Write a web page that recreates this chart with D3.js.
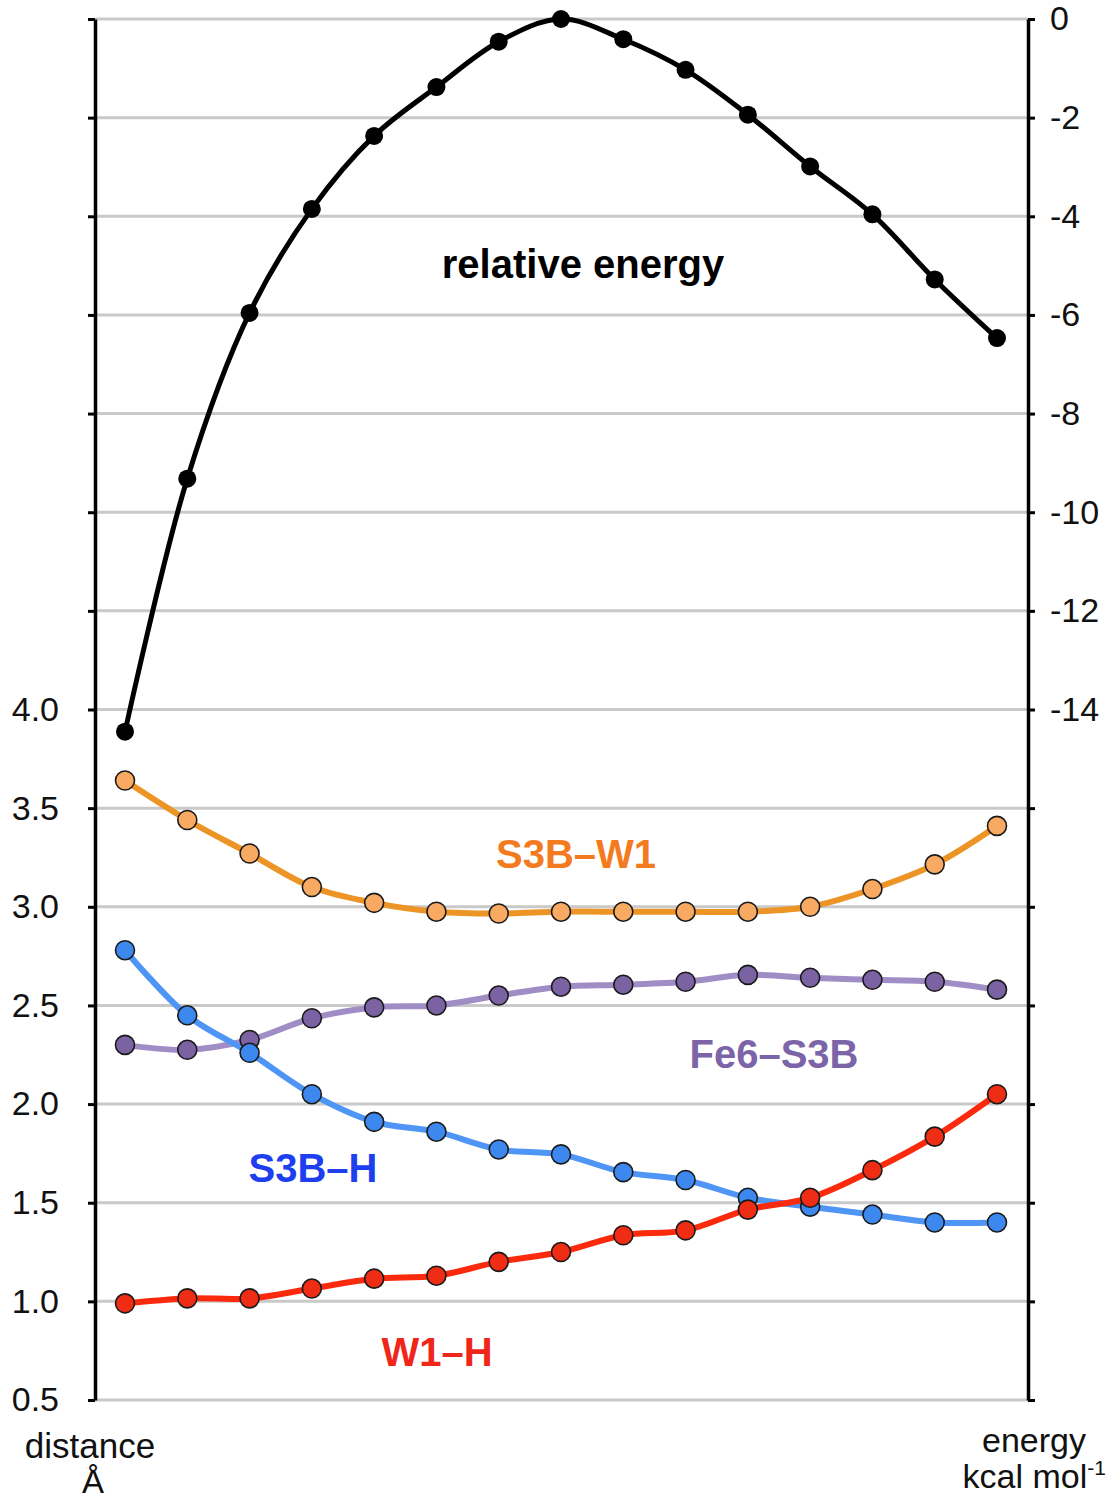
<!DOCTYPE html>
<html>
<head>
<meta charset="utf-8">
<script src="https://cdn.jsdelivr.net/npm/d3@7"></script>
<style>
  body { margin: 0; background: #fff; }
  svg { display: block; font-family: "Liberation Sans", Arial, Helvetica, sans-serif; }
</style>
</head>
<body>
<div id="chart"></div>
<script>
// reaction coordinate steps
const steps = d3.range(1, 16);

// relative energy, kcal/mol (right axis)
const energy = [-14.45, -9.32, -5.96, -3.85, -2.37, -1.38, -0.46, 0, -0.41, -1.03, -1.94, -2.99, -3.96, -5.28, -6.47];

// distances, Angstrom (left axis)
const s3bW1  = [3.64, 3.44, 3.27, 3.10, 3.02, 2.975, 2.966, 2.975, 2.975, 2.975, 2.975, 3.00, 3.09, 3.215, 3.41];
const s3bH   = [2.78, 2.45, 2.26, 2.05, 1.91, 1.86, 1.77, 1.745, 1.655, 1.615, 1.525, 1.48, 1.44, 1.40, 1.40];
const fe6S3b = [2.30, 2.275, 2.325, 2.435, 2.49, 2.50, 2.55, 2.595, 2.605, 2.62, 2.655, 2.64, 2.63, 2.62, 2.58];
const w1H    = [0.99, 1.015, 1.015, 1.065, 1.115, 1.13, 1.20, 1.25, 1.335, 1.36, 1.465, 1.525, 1.665, 1.835, 2.05];

const distTicks = d3.range(0.5, 7.51, 0.5);
const energyTicks = d3.range(0, -28.1, -2);

const width = 1109, height = 1501;
const plotLeft = 95, plotRight = 1028, plotTop = 19, plotBottom = 1400;

const svg = d3.select("#chart").append("svg")
  .attr("width", width)
  .attr("height", height);

// scales
const x = d3.scaleLinear().domain([1, 15]).range([125, 997]);
const yDist = d3.scaleLinear().domain([0.5, 7.5]).range([plotBottom, plotTop]);
const yEnergy = d3.scaleLinear().domain([-28, 0]).range([plotBottom, plotTop]);

// gridlines
svg.append("g")
  .selectAll("line")
  .data(distTicks)
  .enter()
  .append("line")
  .attr("x1", plotLeft)
  .attr("x2", plotRight)
  .attr("y1", d => yDist(d))
  .attr("y2", d => yDist(d))
  .attr("stroke", "#c9c9c9")
  .attr("stroke-width", 3);

// left axis (distance)
const leftAxis = d3.axisLeft(yDist)
  .tickValues(distTicks)
  .tickSize(7)
  .tickSizeOuter(0)
  .tickPadding(29)
  .tickFormat(d => d <= 4 ? d3.format(".1f")(d) : "");

const gL = svg.append("g")
  .attr("transform", `translate(${plotLeft},0)`)
  .call(leftAxis);

// right axis (energy)
const rightAxis = d3.axisRight(yEnergy)
  .tickValues(energyTicks)
  .tickSize(7)
  .tickSizeOuter(0)
  .tickPadding(15)
  .tickFormat(d => d >= -14 ? String(Math.round(d)) : "");

const gR = svg.append("g")
  .attr("transform", `translate(${plotRight},0)`)
  .call(rightAxis);

[gL, gR].forEach(g => {
  g.select(".domain").attr("stroke", "#000").attr("stroke-width", 3.5);
  g.selectAll(".tick line").attr("stroke", "#000").attr("stroke-width", 3);
  g.selectAll(".tick text")
    .attr("fill", "#111")
    .style("font-size", "34px")
    .style("font-family", "'Liberation Sans', Arial, sans-serif");
});

// distance series
const distSeries = [
  {name: "S3B–W1", values: s3bW1, line: "#ec9526", fill: "#f9aa62"},
  {name: "Fe6–S3B", values: fe6S3b, line: "#a08dc6", fill: "#7b62a2"},
  {name: "S3B–H", values: s3bH, line: "#4f95f5", fill: "#3d88ef"},
  {name: "W1–H", values: w1H, line: "#fb2a0c", fill: "#ef2c14"}
];

const distLine = d3.line()
  .x((d, i) => x(steps[i]))
  .y(d => yDist(d))
  .curve(d3.curveCatmullRom);

distSeries.forEach(s => {
  svg.append("path")
    .datum(s.values)
    .attr("d", distLine)
    .attr("fill", "none")
    .attr("stroke", s.line)
    .attr("stroke-width", 6)
    .attr("stroke-linejoin", "round");
});

distSeries.forEach(s => {
  svg.append("g")
    .selectAll("circle")
    .data(s.values)
    .enter()
    .append("circle")
    .attr("cx", (d, i) => x(steps[i]))
    .attr("cy", d => yDist(d))
    .attr("r", 9.5)
    .attr("fill", s.fill)
    .attr("stroke", "#1a1a1a")
    .attr("stroke-width", 1.6);
});

// energy series
const energyLine = d3.line()
  .x((d, i) => x(steps[i]))
  .y(d => yEnergy(d))
  .curve(d3.curveCatmullRom);

svg.append("path")
  .datum(energy)
  .attr("d", energyLine)
  .attr("fill", "none")
  .attr("stroke", "#000")
  .attr("stroke-width", 5);

svg.append("g")
  .selectAll("circle")
  .data(energy)
  .enter()
  .append("circle")
  .attr("cx", (d, i) => x(steps[i]))
  .attr("cy", d => yEnergy(d))
  .attr("r", 9)
  .attr("fill", "#000");

// series labels
const labels = [
  {text: "relative energy", x: 583, y: 278, color: "#000"},
  {text: "S3B–W1", x: 576, y: 868, color: "#f47a20"},
  {text: "Fe6–S3B", x: 774, y: 1068, color: "#7c64a8"},
  {text: "S3B–H", x: 313, y: 1182, color: "#1d3ff0"},
  {text: "W1–H", x: 437, y: 1366, color: "#f1261a"}
];

svg.append("g")
  .selectAll("text")
  .data(labels)
  .enter()
  .append("text")
  .attr("x", d => d.x)
  .attr("y", d => d.y)
  .attr("text-anchor", "middle")
  .attr("fill", d => d.color)
  .style("font-size", "40px")
  .style("font-weight", "bold")
  .text(d => d.text);

// axis titles
svg.append("text")
  .attr("x", 90).attr("y", 1458)
  .attr("text-anchor", "middle")
  .style("font-size", "35px")
  .attr("fill", "#111")
  .text("distance");
svg.append("text")
  .attr("x", 93).attr("y", 1493)
  .attr("text-anchor", "middle")
  .style("font-size", "33px")
  .attr("fill", "#111")
  .text("Å");

svg.append("text")
  .attr("x", 1034).attr("y", 1452)
  .attr("text-anchor", "middle")
  .style("font-size", "34px")
  .attr("fill", "#111")
  .text("energy");
const unit = svg.append("text")
  .attr("x", 1106).attr("y", 1488)
  .attr("text-anchor", "end")
  .style("font-size", "34px")
  .attr("fill", "#111");
unit.append("tspan").text("kcal mol");
unit.append("tspan")
  .attr("dy", -13)
  .style("font-size", "21px")
  .text("-1");
</script>
</body>
</html>
